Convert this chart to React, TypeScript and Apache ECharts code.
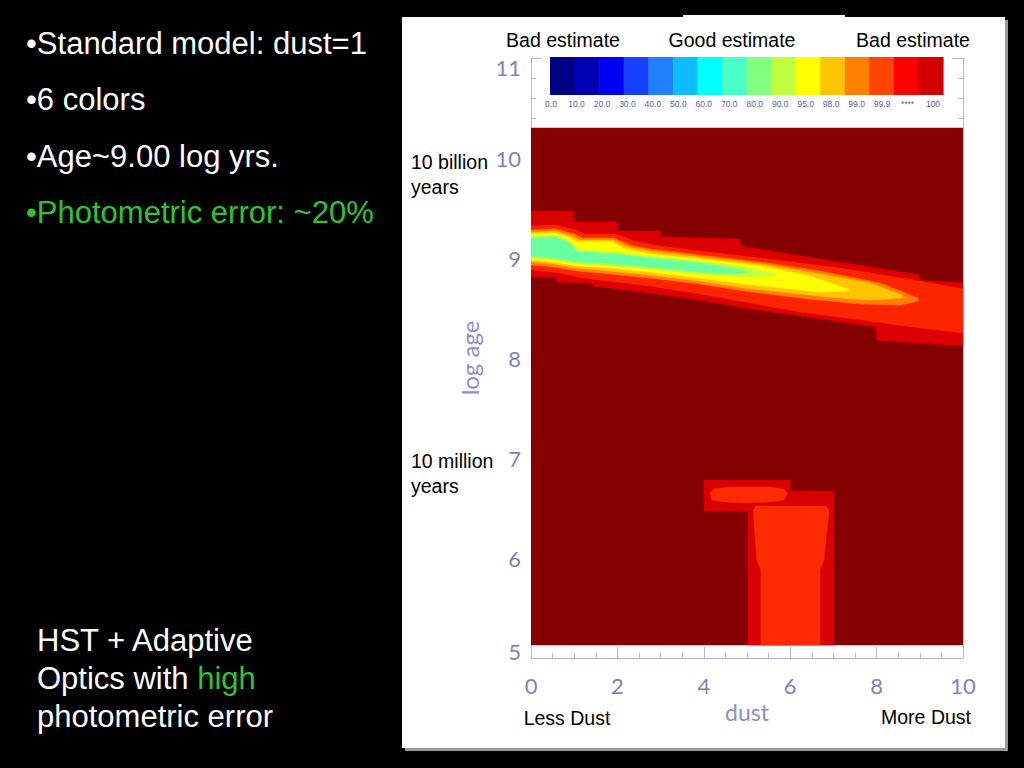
import React, { useEffect, useRef } from "react";
import * as echarts from "echarts";

// ---------- axes ----------
const DUST_RANGE = [0, 10];
const AGE_RANGE = [5, 11];

// ---------- likelihood map (contour bands, in [dust, log age]) ----------
const IMAGE_EXTENT = [[0, 5.13], [10, 5.13], [10, 10.3], [0, 10.3]];

const BAND_OUTER = [
  [0, 9.47], [1, 9.47], [1, 9.36], [2, 9.36], [2, 9.27], [3, 9.27], [3, 9.21],
  [4.85, 9.19], [4.85, 9.12], [9, 8.83], [9, 8.78], [10, 8.75],
  [10, 8.12], [8, 8.18], [8, 8.31], [6.23, 8.42], [4.95, 8.5], [3.91, 8.58],
  [2.75, 8.65], [1.44, 8.72], [1.41, 8.75], [0.6, 8.76], [0.58, 8.81], [0, 8.81],
];
const BAND_999 = [
  [0, 9.32], [0.56, 9.33], [1.04, 9.28], [1.25, 9.24], [1.97, 9.24], [2.38, 9.17],
  [2.99, 9.12], [3.91, 9.07], [5.3, 9.0], [7.15, 8.9], [9.0, 8.77], [10, 8.69],
  [10, 8.25], [9, 8.3], [8, 8.36], [6.23, 8.46], [4.95, 8.56], [3.91, 8.64],
  [2.75, 8.72], [1.6, 8.78], [1.09, 8.81], [0.67, 8.85], [0, 8.88],
];
const BAND_98 = [
  [0, 9.28], [0.56, 9.29], [1.0, 9.24], [1.18, 9.2], [1.92, 9.2], [2.29, 9.13],
  [2.75, 9.09], [3.91, 9.03], [5.3, 8.96], [6.69, 8.87], [8.08, 8.75], [8.96, 8.6],
  [8.96, 8.57], [8.54, 8.53], [7.62, 8.54], [6.23, 8.6], [4.95, 8.67], [3.91, 8.74],
  [2.75, 8.8], [1.6, 8.85], [1.09, 8.87], [0.67, 8.9], [0.32, 8.92], [0, 8.93],
];
const BAND_95 = [
  [0, 9.26], [0.56, 9.27], [0.95, 9.22], [1.13, 9.18], [1.88, 9.18], [2.25, 9.11],
  [2.75, 9.07], [3.91, 9.01], [5.3, 8.94], [6.69, 8.84], [7.85, 8.75], [8.59, 8.63],
  [8.59, 8.6], [7.85, 8.58], [7.15, 8.6], [6.23, 8.64], [4.95, 8.7], [3.91, 8.77],
  [2.75, 8.83], [1.6, 8.88], [1.09, 8.9], [0.67, 8.93], [0.32, 8.95], [0, 8.96],
];
const BAND_90 = [
  [0, 9.24], [0.56, 9.25], [0.9, 9.2], [1.09, 9.16], [1.88, 9.16], [2.18, 9.09],
  [2.75, 9.04], [3.91, 8.99], [5.3, 8.92], [6.46, 8.82], [7.34, 8.69],
  [7.34, 8.67], [6.69, 8.66], [6.23, 8.68], [4.95, 8.74], [3.91, 8.8],
  [2.75, 8.86], [1.6, 8.91], [1.09, 8.92], [0.67, 8.95], [0.32, 8.97], [0, 8.98],
];
const BAND_80 = [
  [0, 9.22], [0.56, 9.23], [0.86, 9.18], [1.09, 9.08], [1.6, 9.07], [2.18, 9.05],
  [2.75, 9.02], [3.91, 8.97], [4.84, 8.92], [5.65, 8.84],
  [5.65, 8.82], [4.95, 8.81], [3.91, 8.84], [2.75, 8.89], [1.6, 8.93],
  [1.09, 8.94], [0.67, 8.97], [0.32, 8.99], [0, 9.0],
];
const BAND_70 = [
  [0, 9.2], [0.56, 9.21], [0.86, 9.16], [1.09, 9.06], [1.6, 9.05], [2.18, 9.03],
  [2.75, 9.0], [3.91, 8.95], [4.61, 8.9], [4.95, 8.87],
  [4.95, 8.85], [4.38, 8.85], [3.91, 8.86], [2.75, 8.91], [1.6, 8.95],
  [1.09, 8.96], [0.67, 8.99], [0.32, 9.01], [0, 9.02],
];
const BLOB_OUTER = [
  [4.0, 6.78], [6.0, 6.78], [6.0, 6.67], [7.01, 6.67], [7.01, 5.13],
  [5.02, 5.13], [5.02, 6.47], [4.0, 6.47],
];
const BLOB_CAP = [
  [4.14, 6.65], [4.24, 6.69], [4.61, 6.71], [5.02, 6.71], [5.53, 6.71], [5.86, 6.69],
  [5.93, 6.64], [5.86, 6.58], [5.53, 6.56], [5.02, 6.55], [4.51, 6.56], [4.19, 6.58],
];
const BLOB_COLUMN = [
  [5.14, 6.48], [5.21, 6.52], [6.83, 6.52], [6.9, 6.48], [6.78, 5.98], [6.69, 5.88],
  [6.69, 5.13], [5.32, 5.13], [5.32, 5.88], [5.23, 5.98],
];

// ---------- colour bar ----------
const COLORBAR_LABELS = [
  "0.0", "10.0", "20.0", "30.0", "40.0", "50.0", "60.0", "70.0",
  "80.0", "90.0", "95.0", "98.0", "99.0", "99.9", "****", "100",
];
const COLORBAR_COLORS = [
  "#000080", "#0000b4", "#0000f4", "#1840ff", "#2080ff", "#10bcff", "#00ffff", "#48ffc4",
  "#80ff80", "#bfff40", "#ffff00", "#ffc400", "#ff8000", "#ff4400", "#ff0000", "#d20000",
];

// ---------- styles ----------
const LAYERS = [
  { poly: IMAGE_EXTENT, color: "#850000" },
  { poly: BAND_OUTER, color: "#dc0000" },
  { poly: BAND_999, color: "#ff2400" },
  { poly: BAND_98, color: "#ff8000" },
  { poly: BAND_95, color: "#ffc400" },
  { poly: BAND_90, color: "#ffff00" },
  { poly: BAND_80, color: "#c0ff40" },
  { poly: BAND_70, color: "#68ffa0" },
  { poly: BLOB_OUTER, color: "#d80000" },
  { poly: BLOB_CAP, color: "#ff2a00" },
  { poly: BLOB_COLUMN, color: "#ff2a00" },
];

const FONT = '"Liberation Sans", Arial, Helvetica, sans-serif';
const AXIS_FONT = 'Lato, "Open Sans", sans-serif';
const AXIS_TEXT = "#7c83bf";
const AXIS_LINE = "#b4b8d8";
const GREEN = "#2fc42f";

function txt(x: number, y: number, text: string, opts: any = {}) {
  return {
    type: "text",
    x,
    y,
    z: 10,
    style: {
      text,
      fill: opts.fill || "#000",
      fontSize: opts.fontSize || 19.5,
      fontFamily: FONT,
      align: opts.align || "left",
      verticalAlign: "middle",
      rich: opts.rich,
    },
  };
}

export default function App() {
  const ref = useRef<HTMLDivElement>(null);

  useEffect(() => {
    document.body.style.margin = "0";
    document.body.style.background = "#000";
    const chart = echarts.init(ref.current!, null, { renderer: "svg" });

    const mainTick = {
      axisLine: { show: true, lineStyle: { color: AXIS_LINE, width: 1 } },
      axisTick: { show: true, inside: true, length: 11, lineStyle: { color: AXIS_LINE } },
      splitLine: { show: false },
    };
    const tickTextStyle = { color: AXIS_TEXT, fontSize: 22, fontFamily: AXIS_FONT };

    const option: any = {
      animation: false,
      backgroundColor: "#000",
      grid: [
        { left: 531, top: 58, width: 432, height: 600 },
        { left: 550, top: 57, width: 393, height: 38 },
        { left: 551, top: 57, width: 382, height: 38 },
      ],
      xAxis: [
        {
          type: "value",
          gridIndex: 0,
          min: DUST_RANGE[0],
          max: DUST_RANGE[1],
          interval: 2,
          ...mainTick,
          minorTick: { show: true, splitNumber: 4, length: 5, lineStyle: { color: AXIS_LINE } },
          axisLabel: { ...tickTextStyle, margin: 16 },
          name: "dust",
          nameLocation: "middle",
          nameGap: 42,
          nameTextStyle: { color: "#8a90cc", fontSize: 23, fontFamily: AXIS_FONT },
        },
        { type: "value", gridIndex: 1, min: 0, max: 16, show: false },
        {
          type: "category",
          gridIndex: 2,
          data: COLORBAR_LABELS,
          boundaryGap: false,
          axisLine: { show: false },
          axisTick: { show: false },
          axisLabel: { interval: 0, color: "#5660a8", fontSize: 8.5, fontFamily: FONT, margin: 4 },
        },
      ],
      yAxis: [
        {
          type: "value",
          gridIndex: 0,
          min: AGE_RANGE[0],
          max: AGE_RANGE[1],
          interval: 1,
          ...mainTick,
          minorTick: { show: true, splitNumber: 5, length: 5, lineStyle: { color: AXIS_LINE } },
          axisLabel: {
            ...tickTextStyle,
            margin: 10,
            formatter: (v: number) =>
              v === AGE_RANGE[1] ? `{top|${v}}` : v === AGE_RANGE[0] ? `{bot|${v}}` : `${v}`,
            rich: {
              top: { ...tickTextStyle, padding: [18, 0, 0, 0] },
              bot: { ...tickTextStyle, padding: [0, 0, 14, 0] },
            },
          },
          name: "log age",
          nameLocation: "middle",
          nameRotate: 90,
          nameGap: 50,
          nameTextStyle: { color: "#8a90cc", fontSize: 24, fontFamily: AXIS_FONT },
        },
        {
          type: "value",
          gridIndex: 0,
          position: "right",
          min: AGE_RANGE[0],
          max: AGE_RANGE[1],
          interval: 1,
          ...mainTick,
          minorTick: { show: true, splitNumber: 5, length: 5, lineStyle: { color: AXIS_LINE } },
          axisLabel: { show: false },
        },
        { type: "value", gridIndex: 1, min: 0, max: 1, show: false },
        { type: "value", gridIndex: 2, min: 0, max: 1, show: false },
      ],
      series: [
        {
          type: "custom",
          xAxisIndex: 0,
          yAxisIndex: 0,
          clip: true,
          data: LAYERS.map((_, i) => [i]),
          renderItem: (_p: any, api: any) => {
            const layer = LAYERS[api.value(0)];
            const points = layer.poly.map((pt) => api.coord(pt));
            return {
              type: "polygon",
              shape: { points },
              style: { fill: layer.color, stroke: layer.color, lineWidth: 0.5 },
            };
          },
        },
        {
          type: "custom",
          xAxisIndex: 1,
          yAxisIndex: 2,
          data: COLORBAR_COLORS.map((_, i) => [i]),
          renderItem: (_p: any, api: any) => {
            const i = api.value(0);
            const a = api.coord([i, 1]);
            const b = api.coord([i + 1, 0]);
            return {
              type: "rect",
              shape: { x: a[0], y: a[1], width: b[0] - a[0] + 0.6, height: b[1] - a[1] },
              style: { fill: COLORBAR_COLORS[i] },
            };
          },
        },
      ],
      graphic: [
        { type: "rect", z: -20, shape: { x: 405, y: 20, width: 603, height: 731 }, style: { fill: "#9a9a9a" } },
        { type: "rect", z: -19, shape: { x: 402, y: 17, width: 603, height: 731 }, style: { fill: "#fff" } },
        { type: "rect", z: -19, shape: { x: 683, y: 15, width: 162, height: 4 }, style: { fill: "#fff" } },
        txt(563, 40, "Bad estimate", { align: "center" }),
        txt(732, 40, "Good estimate", { align: "center" }),
        txt(913, 40, "Bad estimate", { align: "center" }),
        txt(411, 162, "10 billion"),
        txt(411, 187, "years"),
        txt(411, 461, "10 million"),
        txt(411, 486, "years"),
        txt(567, 718, "Less Dust", { align: "center" }),
        txt(926, 717, "More Dust", { align: "center" }),
        txt(26, 43, "•Standard model: dust=1", { fill: "#fff", fontSize: 31 }),
        txt(26, 99, "•6 colors", { fill: "#fff", fontSize: 31 }),
        txt(26, 156, "•Age~9.00 log yrs.", { fill: "#fff", fontSize: 31 }),
        txt(26, 212, "•Photometric error: ~20%", { fill: GREEN, fontSize: 31 }),
        txt(37, 640, "HST + Adaptive", { fill: "#fff", fontSize: 31 }),
        txt(37, 678, "Optics with {g|high}", {
          fill: "#fff",
          fontSize: 31,
          rich: { g: { fill: GREEN, fontSize: 31, fontFamily: FONT } },
        }),
        txt(37, 716, "photometric error", { fill: "#fff", fontSize: 31 }),
      ],
    };

    chart.setOption(option);
    return () => chart.dispose();
  }, []);

  return (
    <div
      ref={ref}
      style={{ position: "fixed", left: 0, top: 0, width: 1024, height: 768, background: "#000" }}
    />
  );
}
